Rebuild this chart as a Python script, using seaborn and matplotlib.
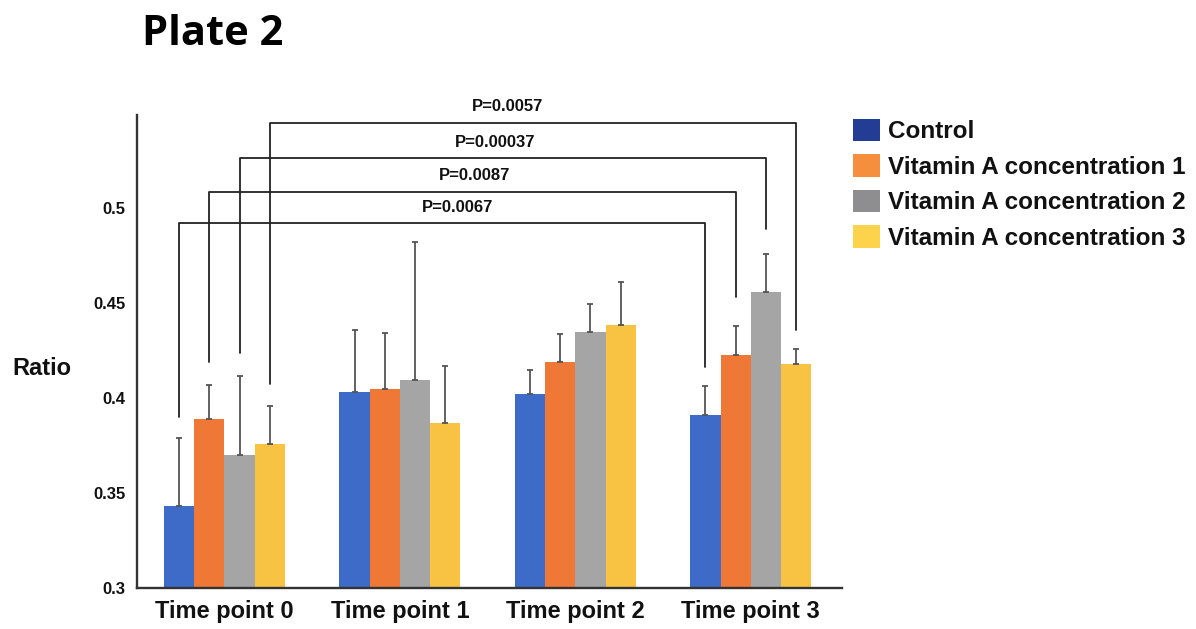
import numpy as np
import pandas as pd
import seaborn as sns
import matplotlib.pyplot as plt
from matplotlib.patches import Patch

# Values
time_points = ['Time point 0', 'Time point 1', 'Time point 2', 'Time point 3']
groups = ['Control', 'Vitamin A concentration 1', 'Vitamin A concentration 2', 'Vitamin A concentration 3']

control = [0.343, 0.403, 0.402, 0.391]
conc1 = [0.389, 0.405, 0.419, 0.4225]
conc2 = [0.370, 0.4095, 0.435, 0.456]
conc3 = [0.376, 0.387, 0.4385, 0.418]

control_err = [0.036, 0.033, 0.0127, 0.0153]
conc1_err = [0.018, 0.029, 0.0148, 0.0154]
conc2_err = [0.0416, 0.0725, 0.0143, 0.0196]
conc3_err = [0.020, 0.0298, 0.0224, 0.0078]

# significance brackets: Time point 0 vs Time point 3, one per group
p_labels = ['P=0.0067', 'P=0.0087', 'P=0.00037', 'P=0.0057']
bracket_y = [0.492, 0.5086, 0.5262, 0.5449]
left_leg_bottom = [0.390, 0.4188, 0.4238, 0.4074]
right_leg_bottom = [0.4165, 0.4533, 0.4888, 0.436]
p_label_x = [1.327, 1.427, 1.542, 1.612]

bar_colors = ['#3F6BC8', '#F07837', '#A5A5A5', '#F8C342']
legend_colors = ['#233D94', '#F58E3D', '#8E8E90', '#FCD34A']

df = pd.DataFrame({
    'time': time_points * 4,
    'group': np.repeat(groups, 4),
    'ratio': control + conc1 + conc2 + conc3,
})
errs = [control_err, conc1_err, conc2_err, conc3_err]

sns.set_style('white')
plt.rcParams['font.family'] = ['Liberation Sans', 'DejaVu Sans']
plt.rcParams['font.weight'] = 'bold'
plt.rcParams['text.color'] = '#111111'
plt.rcParams['xtick.color'] = '#111111'
plt.rcParams['ytick.color'] = '#111111'
plt.rcParams['axes.labelcolor'] = '#111111'

fig = plt.figure(figsize=(11.96, 6.29), dpi=100)
ax = fig.add_axes([0.1143, 0.0652, 0.5897, 0.7520])

sns.barplot(data=df, x='time', y='ratio', hue='group', palette=bar_colors,
            saturation=1, errorbar=None, width=0.689, gap=0, linewidth=0,
            legend=False, ax=ax)
bar_containers = list(ax.containers)

# upward-only error bars
for cont, err in zip(bar_containers, errs):
    xs = [b.get_x() + b.get_width() / 2 for b in cont]
    hs = [b.get_height() for b in cont]
    ax.errorbar(xs, hs, yerr=[np.zeros(len(err)), err], fmt='none',
                ecolor='#555555', elinewidth=1.3, capsize=2, capthick=1.3, zorder=3)

# brackets
for i, cont in enumerate(bar_containers):
    bars = list(cont)
    x0 = bars[0].get_x() + bars[0].get_width() / 2
    x1 = bars[3].get_x() + bars[3].get_width() / 2
    ax.plot([x0, x0, x1, x1],
            [left_leg_bottom[i], bracket_y[i], bracket_y[i], right_leg_bottom[i]],
            color='#222222', lw=1.3, clip_on=False, zorder=4)
    ax.text(p_label_x[i], bracket_y[i] + 0.0045, p_labels[i], ha='center', va='bottom',
            fontsize=12, fontweight='bold')

ax.set_ylim(0.3, 0.549)
ax.set_xlim(-0.5, 3.52)
ax.set_yticks([0.3, 0.35, 0.4, 0.45, 0.5])
ax.set_yticklabels(['0.3', '0.35', '0.4', '0.45', '0.5'])
ax.tick_params(axis='y', length=0, pad=8, labelsize=12)
ax.tick_params(axis='x', length=0, pad=9, labelsize=17)
for lab in ax.get_xticklabels() + ax.get_yticklabels():
    lab.set_fontweight('bold')
ax.set_xlabel('')
ax.set_ylabel('Ratio', rotation=0, ha='left', va='center', fontsize=17, fontweight='bold')
ax.yaxis.set_label_coords(-0.1768, 0.465)

sns.despine(ax=ax)
for side in ['left', 'bottom']:
    ax.spines[side].set_color('#333333')
    ax.spines[side].set_linewidth(1.7)

handles = [Patch(facecolor=c, edgecolor='none') for c in legend_colors]
fig.legend(handles, groups, loc='upper left', bbox_to_anchor=(0.713, 0.811),
           frameon=False, handlelength=1.12, handleheight=1.04,
           handletextpad=0.33, labelspacing=0.45, borderpad=0, borderaxespad=0,
           prop={'weight': 'bold', 'size': 17.5})

fig.text(0.1185, 1 - 45 / 629, 'Plate 2', fontsize=30, fontweight='bold',
         family=['Open Sans', 'DejaVu Sans'], va='baseline', ha='left', color='#000000')

fig.savefig('out.png', dpi=100)
